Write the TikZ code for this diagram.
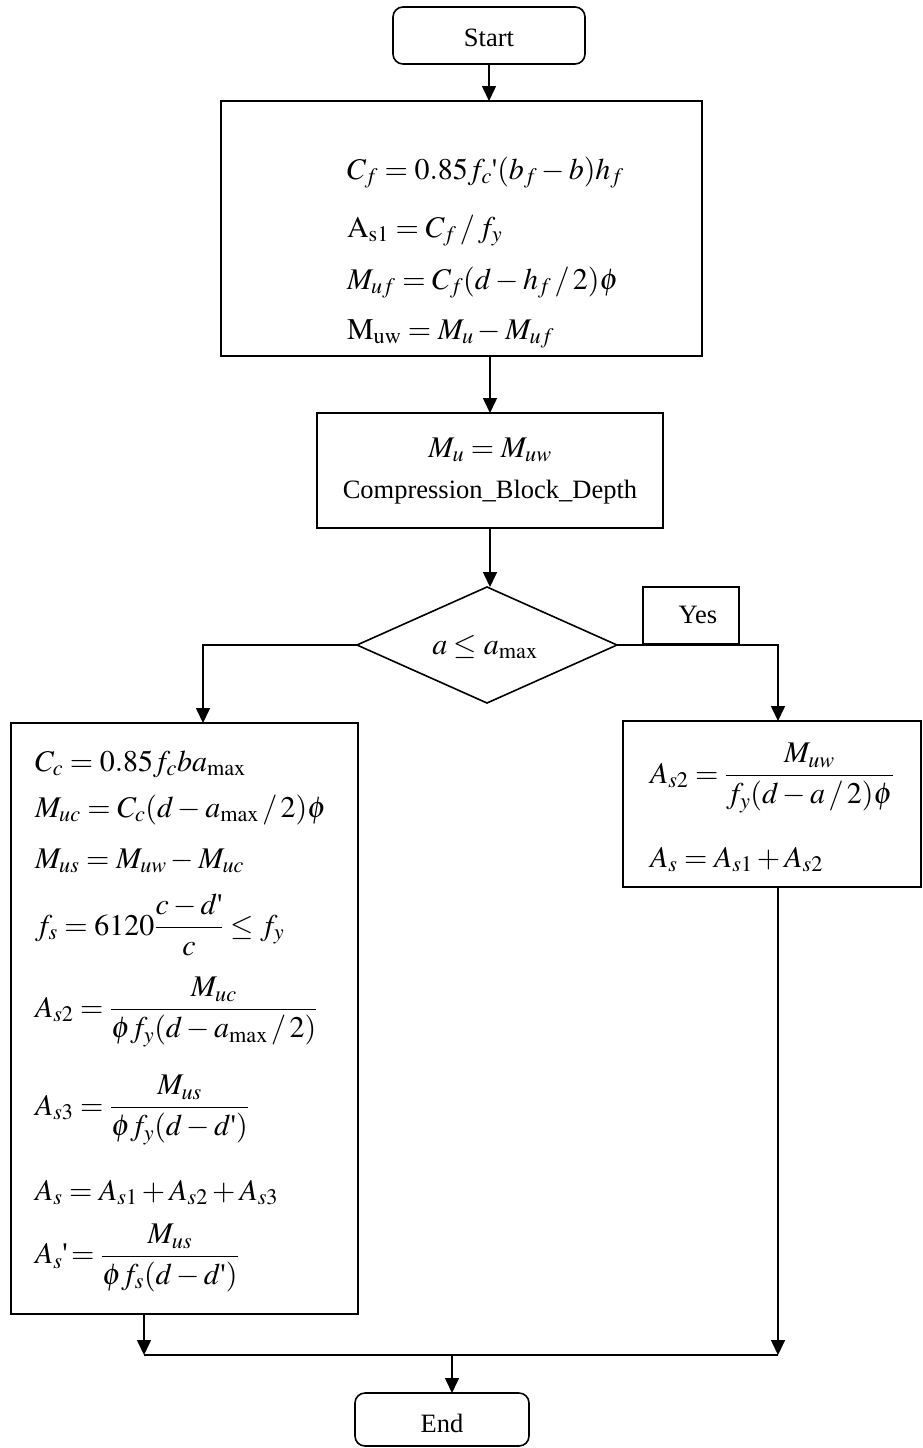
\documentclass[tikz,border=0pt]{standalone}
\usepackage{amsmath}
\usepackage{mathptmx}
\usepackage{fontspec}
\setmainfont{Liberation Serif}
\usetikzlibrary{arrows.meta,shapes.geometric}
\newcommand{\qs}{\mbox{\textquotesingle}}
\begin{document}
\begin{tikzpicture}[x=1pt,y=-1pt,line width=1.6pt,
  box/.style={draw, rectangle, inner sep=0pt, outer sep=0pt},
  term/.style={box, rounded corners=10pt},
  arr/.style={-{Triangle[length=15pt,width=14pt]}},
  txt/.style={inner sep=0pt, outer sep=0pt, font=\fontsize{26.5}{32}\selectfont},
  mtxt/.style={inner sep=0pt, outer sep=0pt, font=\fontsize{30}{36}\selectfont}]
\useasboundingbox (0,0) rectangle (922,1448);
% shapes
\node[term, minimum width=192pt, minimum height=57pt] (start) at (489,35.5) {};
\node[box, minimum width=481pt, minimum height=255pt] (top) at (461.5,228.5) {};
\node[box, minimum width=346pt, minimum height=115pt] (mid) at (490,470.5) {};
\node[draw, diamond, inner sep=0pt, outer sep=0pt, minimum width=260pt, minimum height=116pt] (dia) at (487,645) {};
\node[box, minimum width=347pt, minimum height=591pt] (left) at (184.5,1018.5) {};
\node[box, minimum width=298pt, minimum height=166pt] (right) at (772,804) {};
\node[term, minimum width=174pt, minimum height=53pt] (end) at (442,1419.5) {};
% texts
\node[txt, anchor=base] (tstart) at (489,46) {Start};
\node[mtxt, anchor=base west] (t1) at (347,179) {$C_f = 0.85 f_c\qs(b_f - b)h_f$};
\node[mtxt, anchor=base west] (t2) at (347,237) {$\mathrm{A}_{\mathrm{s1}} = C_f \,/\, f_y$};
\node[mtxt, anchor=base west] (t3) at (347,289) {$M_{uf} = C_f(d - h_f \,/\, 2)\phi$};
\node[mtxt, anchor=base west] (t4) at (347,339) {$\mathrm{M}_{\mathrm{uw}} = M_u - M_{uf}$};
\node[mtxt, anchor=base] (t5) at (490,457) {$M_u = M_{uw}$};
\node[txt, anchor=base] (t6) at (490,498) {Compression\_Block\_Depth};
\node[mtxt, anchor=base] (t7) at (485,654) {$a \le a_{\max}$};
\node[mtxt, anchor=base west] (l1) at (35,771) {$C_c = 0.85 f_c b a_{\max}$};
\node[mtxt, anchor=base west] (l2) at (35,817) {$M_{uc} = C_c(d - a_{\max} \,/\, 2)\phi$};
\node[mtxt, anchor=base west] (l3) at (35,868) {$M_{us} = M_{uw} - M_{uc}$};
\node[mtxt, anchor=west] (l4) at (35,925) {$f_s = 6120\dfrac{c-d\qs}{c} \le f_y$};
\node[mtxt, anchor=west] (l5) at (35,1012) {$A_{s2} = \dfrac{M_{uc}}{\phi f_y(d - a_{\max} \,/\, 2)}$};
\node[mtxt, anchor=west] (l6) at (35,1110) {$A_{s3} = \dfrac{M_{us}}{\phi f_y(d - d\qs)}$};
\node[mtxt, anchor=base west] (l7) at (35,1200) {$A_s = A_{s1} + A_{s2} + A_{s3}$};
\node[mtxt, anchor=west] (l8) at (35,1258) {$A_s\qs\!= \dfrac{M_{us}}{\phi f_s(d - d\qs)}$};
\node[mtxt, anchor=west] (r1) at (650,778) {$A_{s2} = \dfrac{M_{uw}}{f_y(d - a \,/\, 2)\phi}$};
\node[mtxt, anchor=base west] (r2) at (650,867) {$A_s = A_{s1} + A_{s2}$};
\node[txt, anchor=base] (tend) at (442,1432) {End};
% connector points
\coordinate (lin) at (203,723);
\coordinate (rin) at (778,721);
\coordinate (lout) at (144,1314);
\coordinate (rout) at (778,887);
\coordinate (jl) at (144,1355);
\coordinate (jr) at (778,1355);
\coordinate (jm) at (452,1355);
% connectors
\draw[arr] (start.south) -- (start.south |- top.north);
\draw[arr] (mid.north |- top.south) -- (mid.north);
\draw[arr] (mid.south) -- (mid.south |- dia.north);
\draw[arr] (dia.west) -| (lin);
\draw[arr] (dia.east) -| (rin);
\draw[arr] (lout) -- (jl);
\draw[arr] (rout) -- (jr);
\draw (jl) -- (jr);
\draw[arr] (jm) -- (jm |- end.north);
% yes box
\node[box, fill=white, minimum width=96pt, minimum height=57pt] (yes) at (691,615.5) {};
\node[txt, anchor=base] (tyes) at (698,623) {Yes};
\end{tikzpicture}
\end{document}
